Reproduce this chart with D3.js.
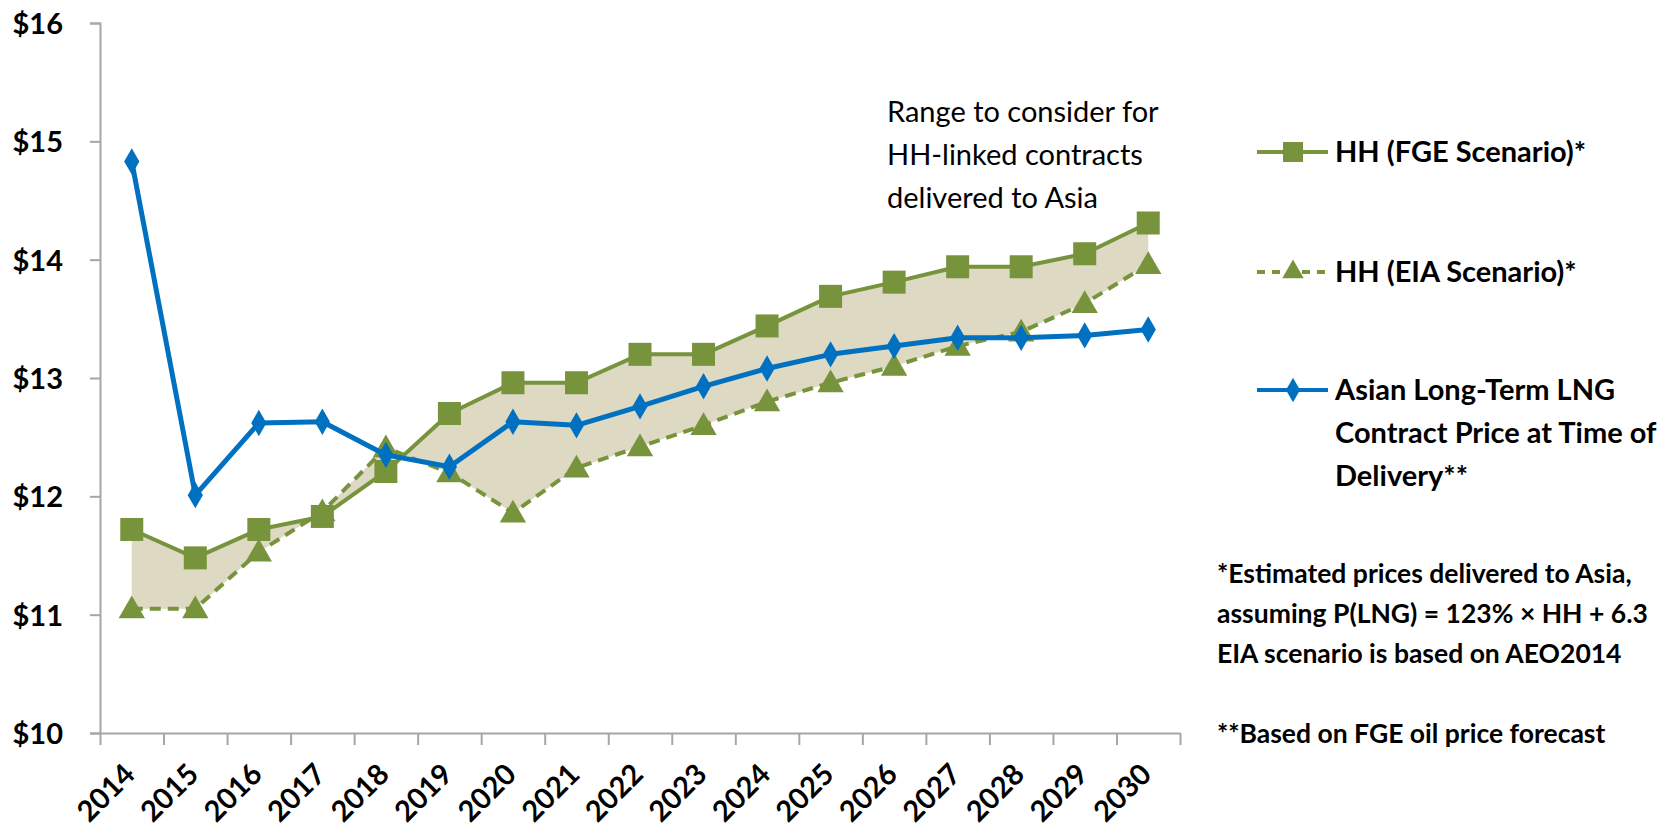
<!DOCTYPE html>
<html>
<head>
<meta charset="utf-8">
<script src="https://cdn.jsdelivr.net/npm/d3@7"></script>
<style>
  html, body { margin: 0; padding: 0; background: #ffffff; }
  svg { display: block; }
  text { font-family: Lato, "Open Sans", sans-serif; fill: #000; }
</style>
</head>
<body>
<svg id="chart" width="1680" height="834"></svg>
<script>
// ---- Data ----
const years = ["2014","2015","2016","2017","2018","2019","2020","2021","2022","2023","2024","2025","2026","2027","2028","2029","2030"];
const hhFGE = [11.72, 11.48, 11.72, 11.83, 12.21, 12.70, 12.96, 12.96, 13.20, 13.20, 13.44, 13.69, 13.81, 13.94, 13.94, 14.05, 14.31];
const hhEIA = [11.05, 11.05, 11.53, 11.87, 12.41, 12.20, 11.86, 12.24, 12.42, 12.60, 12.80, 12.96, 13.10, 13.27, 13.39, 13.63, 13.96];
const asianLT = [14.83, 12.01, 12.62, 12.63, 12.35, 12.25, 12.63, 12.60, 12.76, 12.93, 13.08, 13.20, 13.27, 13.34, 13.34, 13.36, 13.41];
const yTicks = [10, 11, 12, 13, 14, 15, 16];
const legendLines = [["HH (FGE Scenario)*"], ["HH (EIA Scenario)*"], ["Asian Long-Term LNG", "Contract Price at Time of", "Delivery**"]];
const annotationLines = ["Range to consider for", "HH-linked contracts", "delivered to Asia"];
const footnoteLines = ["*Estimated prices delivered to Asia,", "assuming P(LNG) = 123% \u00d7 HH +  6.3", "EIA scenario is based on AEO2014", "", "**Based on FGE oil price forecast"];

// ---- Layout ----
const svg = d3.select("#chart");
const plotL = 100, plotR = 1180, plotT = 23, plotB = 733;
const green = "#77933c", blue = "#0070c0", fillCol = "#ddd9c3", axisCol = "#a6a6a6";

const x = d3.scaleBand().domain(years).range([plotL, plotR]).paddingInner(0).paddingOuter(0);
const cx = d => x(d) + x.bandwidth() / 2;
const y = d3.scaleLinear().domain([10, 16]).range([plotB, plotT]);
const xb = d3.scaleLinear().domain([0, years.length]).range([plotL, plotR]);

// Axes
const yAxis = svg.append("g").attr("transform", `translate(${plotL},0)`)
  .call(d3.axisLeft(y).tickValues(yTicks).tickSize(10).tickPadding(27).tickFormat(d => "$" + d));
yAxis.select(".domain").attr("stroke", axisCol).attr("stroke-width", 2);
yAxis.selectAll(".tick line").attr("stroke", axisCol).attr("stroke-width", 2);
yAxis.selectAll(".tick text").attr("font-size", 29).attr("font-weight", 700)
  .attr("font-family", "Lato, sans-serif").attr("fill", "#000").attr("dy", "0.36em");

const xAxis = svg.append("g").attr("transform", `translate(0,${plotB})`)
  .call(d3.axisBottom(xb).tickValues(d3.range(0, years.length + 1)).tickSize(12).tickSizeOuter(0).tickFormat(""));
xAxis.select(".domain").attr("stroke", axisCol).attr("stroke-width", 2);
xAxis.selectAll(".tick line").attr("stroke", axisCol).attr("stroke-width", 2);

// X labels (rotated)
svg.append("g").selectAll("text").data(years).join("text")
  .attr("transform", d => `translate(${cx(d) + 5},${plotB + 43}) rotate(-45)`)
  .attr("text-anchor", "end")
  .attr("font-size", 29).attr("font-weight", 700)
  .text(d => d);

// Band area between the two HH scenarios
const idx = d3.range(years.length);
const area = d3.area()
  .x(i => cx(years[i]))
  .y0(i => y(hhEIA[i]))
  .y1(i => y(hhFGE[i]));
svg.append("path").datum(idx).attr("d", area).attr("fill", fillCol);

const line = vals => d3.line().x(i => cx(years[i])).y(i => y(vals[i]));

const sym = {
  square: d3.symbol().type(d3.symbolSquare).size(23 * 23),
  triangle: d3.symbol().type(d3.symbolTriangle).size(300),
  diamond: d3.symbol().type(d3.symbolDiamond).size(200)
};
function drawSeries(vals, color, width, dash, symbolPath, dy) {
  const g = svg.append("g");
  g.append("path").datum(idx).attr("d", line(vals)).attr("fill", "none")
    .attr("stroke", color).attr("stroke-width", width)
    .attr("stroke-dasharray", dash).attr("stroke-linejoin", "round");
  g.selectAll("path.m").data(idx).join("path").attr("class", "m")
    .attr("transform", i => `translate(${cx(years[i])},${y(vals[i]) + (dy || 0)})`)
    .attr("d", symbolPath).attr("fill", color);
}
drawSeries(hhEIA, green, 4, "11,7", sym.triangle(), 2);
drawSeries(hhFGE, green, 4, null, sym.square(), 0);
drawSeries(asianLT, blue, 5, null, sym.diamond(), 0);

// Annotation
svg.append("text").attr("x", 887).attr("y", 122)
  .attr("font-size", 29).attr("font-weight", 400)
  .selectAll("tspan").data(annotationLines).join("tspan")
  .attr("x", 887).attr("dy", (d, i) => i === 0 ? 0 : 43).text(d => d);

// Legend
const legendItems = [
  { lines: legendLines[0], color: green, dash: null, sym: d3.symbol().type(d3.symbolSquare).size(400)(), y: 152 },
  { lines: legendLines[1], color: green, dash: "8,7", sym: d3.symbol().type(d3.symbolTriangle).size(200)(), y: 272 },
  { lines: legendLines[2], color: blue, dash: null, sym: d3.symbol().type(d3.symbolDiamond).size(170)(), y: 390 }
];
const lg = svg.append("g");
legendItems.forEach(it => {
  lg.append("line").attr("x1", 1257).attr("x2", 1328).attr("y1", it.y).attr("y2", it.y)
    .attr("stroke", it.color).attr("stroke-width", 4).attr("stroke-dasharray", it.dash);
  lg.append("path").attr("transform", `translate(1293,${it.y})`).attr("d", it.sym).attr("fill", it.color);
  lg.append("text").attr("y", it.y + 10).attr("font-size", 29).attr("font-weight", 700)
    .selectAll("tspan").data(it.lines).join("tspan")
    .attr("x", 1335).attr("dy", (d, i) => i === 0 ? 0 : 43).text(d => d);
});

// Footnotes
svg.append("text").attr("y", 583).attr("font-size", 26.5).attr("font-weight", 700)
  .selectAll("tspan").data(footnoteLines).join("tspan")
  .attr("x", 1217).attr("dy", (d, i) => i === 0 ? 0 : 40).text(d => d === "" ? "\u00a0" : d);
</script>
</body>
</html>
